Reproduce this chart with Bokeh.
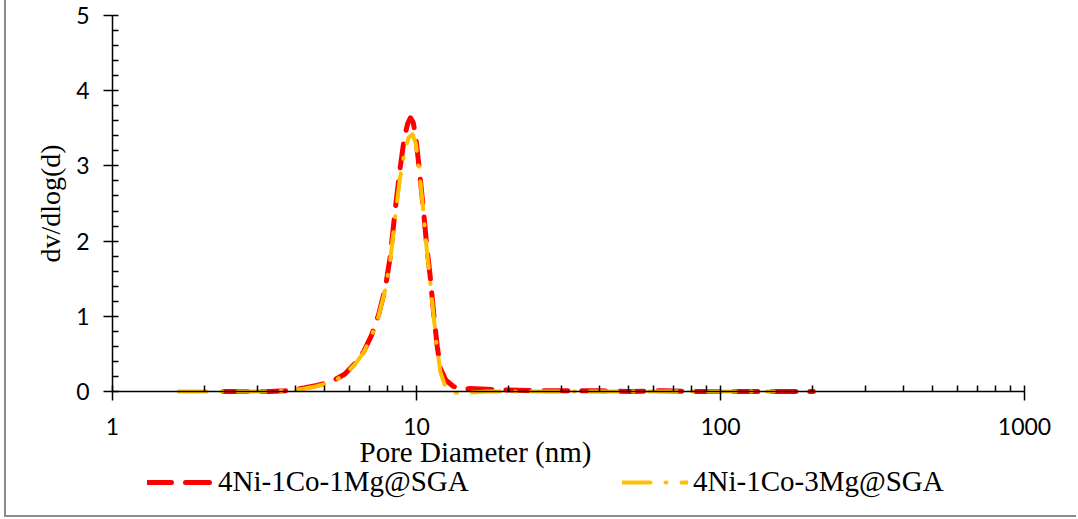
from bokeh.plotting import figure
from bokeh.models import Range1d, FixedTicker, Label, Legend, LegendItem, ColumnDataSource
from bokeh.embed import file_html
from bokeh.resources import INLINE

# Pore size distribution (BJH), dv/dlog(d) versus pore diameter in nm
ni1mg_d = [2.32, 2.8, 3.3, 3.7, 4.0, 4.3, 4.7, 5.0, 5.4, 5.8, 6.3, 6.7, 7.1, 7.5, 7.9,
           8.2, 8.5, 8.8, 9.1, 9.35, 9.55, 9.75, 9.95, 10.2, 10.5, 10.8, 11.1, 11.4,
           11.7, 12.0, 12.5, 13.2, 14.0, 15.0, 17.0, 20.0, 25.0, 30.0, 40.0, 50.0,
           65.0, 80.0, 100.0, 130.0, 160.0, 202.0]
ni1mg_v = [0.0, 0.0, 0.0, 0.01, 0.03, 0.05, 0.08, 0.11, 0.16, 0.23, 0.38, 0.53, 0.74,
           1.02, 1.38, 1.8, 2.4, 2.92, 3.35, 3.56, 3.64, 3.58, 3.38, 2.98, 2.48, 1.95,
           1.52, 1.02, 0.6, 0.3, 0.15, 0.07, 0.03, 0.04, 0.03, 0.02, 0.01, 0.01, 0.01,
           0.0, 0.01, 0.0, 0.0, 0.0, 0.0, 0.0]

ni3mg_d = [1.65, 2.0, 2.4, 2.8, 3.3, 3.7, 4.0, 4.3, 4.7, 5.0, 5.4, 5.8, 6.3, 6.7, 7.1,
           7.5, 7.9, 8.2, 8.5, 8.8, 9.1, 9.4, 9.7, 9.95, 10.2, 10.5, 10.8, 11.1, 11.4,
           11.7, 12.0, 12.5, 13.2, 14.0, 15.0, 17.0, 20.0, 25.0, 30.0, 40.0, 50.0,
           65.0, 80.0, 100.0, 125.0, 150.0]
ni3mg_v = [0.0, 0.0, 0.0, 0.0, 0.0, 0.01, 0.02, 0.04, 0.07, 0.1, 0.15, 0.22, 0.37, 0.52,
           0.73, 1.0, 1.36, 1.75, 2.3, 2.8, 3.15, 3.37, 3.42, 3.3, 2.95, 2.45, 1.9, 1.45,
           0.98, 0.55, 0.25, 0.04, -0.015, -0.02, -0.015, 0.0, 0.0, 0.0, 0.0, 0.0, 0.0,
           0.0, 0.0, 0.0, 0.0, 0.0]

series_names = ["4Ni-1Co-1Mg@SGA", "4Ni-1Co-3Mg@SGA"]

x_major = [1, 10, 100, 1000]
x_labels = ["1", "10", "100", "1000"]
x_minor = [m * 10 ** e for e in range(3) for m in range(2, 10)]
y_major = [0, 1, 2, 3, 4, 5]
y_minor = [round(i * 0.2, 1) for i in range(1, 25) if i % 5 != 0]

# Canvas geometry in pixels. The frame fills the whole canvas and both axes
# are pinned at fixed data locations, so every text sits inside the frame.
W, H = 1072, 517
X0_PX, DECADE_PX = 106, 304          # x = 1 position, pixels per decade
Y5_PX, Y0_PX = 15, 391               # y = 5 and y = 0 positions
unit_px = (Y0_PX - Y5_PX) / 5.0
x_start = 10 ** (-X0_PX / DECADE_PX)
x_end = 10 ** ((W - X0_PX) / DECADE_PX)
y_top = 5 + Y5_PX / unit_px
y_bottom = -(H - Y0_PX) / unit_px

SERIF = "Liberation Serif"

p = figure(width=W, height=H, x_axis_type="log",
           x_range=Range1d(x_start, x_end), y_range=Range1d(y_bottom, y_top),
           output_backend="svg", toolbar_location=None,
           min_border_left=0, min_border_right=0,
           min_border_top=0, min_border_bottom=0)
p.styles = {"margin-left": "4px",
            "border-left": "2px solid #8c8c8c",
            "border-bottom": "2px solid #8c8c8c"}
p.outline_line_color = None
p.xgrid.visible = False
p.ygrid.visible = False

p.xaxis.ticker = FixedTicker(ticks=x_major, minor_ticks=x_minor)
p.xaxis.major_label_overrides = {t: s for t, s in zip(x_major, x_labels)}
p.xaxis.fixed_location = 0
p.xaxis.bounds = (1, 1000)
p.yaxis.ticker = FixedTicker(ticks=y_major, minor_ticks=y_minor)
p.yaxis.fixed_location = 1
p.yaxis.bounds = (0, 5)

for ax in (p.xaxis, p.yaxis):
    ax.axis_line_color = "black"
    ax.axis_line_width = 1.5
    ax.major_tick_line_color = "black"
    ax.major_tick_line_width = 1.5
    ax.minor_tick_line_color = "black"
    ax.minor_tick_line_width = 1.5
    ax.major_tick_in = 6
    ax.major_tick_out = 9
    ax.minor_tick_in = 6
    ax.minor_tick_out = 0
    ax.major_label_text_font = "Lato"
    ax.major_label_text_font_size = "23px"
    ax.major_label_text_color = "black"
    ax.major_label_standoff = 14
p.xaxis.major_label_standoff = 17

p.yaxis.axis_label = "dv/dlog(d)"
p.yaxis.axis_label_text_font = SERIF
p.yaxis.axis_label_text_font_size = "28px"
p.yaxis.axis_label_text_font_style = "normal"
p.yaxis.axis_label_text_color = "black"
p.yaxis.axis_label_standoff = 7

src1 = ColumnDataSource(dict(d=ni1mg_d, v=ni1mg_v))
src3 = ColumnDataSource(dict(d=ni3mg_d, v=ni3mg_v))

r1 = p.line("d", "v", source=src1, line_color="#FF0000", line_width=5,
            line_dash="24 14", line_cap="round", line_join="round")
r3 = p.line("d", "v", source=src3, line_color="#FFC000", line_width=4,
            line_dash="28 15 1 15", line_cap="round", line_join="round")

# x-axis title (screen units measured from the frame's bottom-left corner)
p.add_layout(Label(x=469, y=H - 451, x_units="screen", y_units="screen",
                   text="Pore Diameter (nm)", text_align="center",
                   text_baseline="middle", text_font=SERIF,
                   text_font_size="29px", text_color="black"))

for name, rend, loc in zip(series_names, [r1, r3], [(141, 19), (616, 19)]):
    leg = Legend(items=[LegendItem(label=name, renderers=[rend])], location=loc,
                 border_line_color=None, background_fill_alpha=0,
                 padding=0, margin=0, glyph_width=66, glyph_height=20,
                 label_standoff=5, label_text_font=SERIF,
                 label_text_font_size="29px", label_text_color="black")
    p.add_layout(leg)

open("out.html", "w").write(file_html(p, INLINE))
